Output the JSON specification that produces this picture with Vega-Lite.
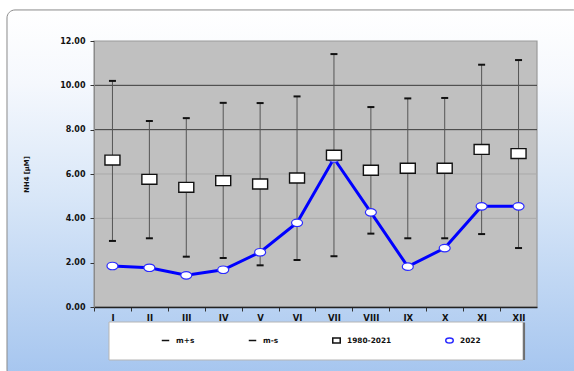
{
  "$schema": "https://vega.github.io/schema/vega-lite/v6.json",
  "width": 443,
  "height": 266,
  "autosize": {"type": "none"},
  "padding": {"left": 94, "top": 41, "right": 37, "bottom": 64},
  "background": "white",
  "config": {
    "view": {"stroke": null},
    "font": "DejaVu Sans"
  },
  "data": {
    "values": [
      {"month": 1, "mps": 10.2, "mms": 2.98, "mean": 6.63, "y2022": 1.85},
      {"month": 2, "mps": 8.39, "mms": 3.1, "mean": 5.76, "y2022": 1.77},
      {"month": 3, "mps": 8.52, "mms": 2.27, "mean": 5.4, "y2022": 1.43},
      {"month": 4, "mps": 9.21, "mms": 2.21, "mean": 5.7, "y2022": 1.68},
      {"month": 5, "mps": 9.2, "mms": 1.88, "mean": 5.55, "y2022": 2.47},
      {"month": 6, "mps": 9.5, "mms": 2.12, "mean": 5.82, "y2022": 3.8},
      {"month": 7, "mps": 11.41, "mms": 2.29, "mean": 6.85, "y2022": 6.7},
      {"month": 8, "mps": 9.02, "mms": 3.31, "mean": 6.17, "y2022": 4.27},
      {"month": 9, "mps": 9.41, "mms": 3.1, "mean": 6.26, "y2022": 1.82},
      {"month": 10, "mps": 9.43, "mms": 3.1, "mean": 6.26, "y2022": 2.66},
      {"month": 11, "mps": 10.93, "mms": 3.29, "mean": 7.11, "y2022": 4.54},
      {"month": 12, "mps": 11.14, "mms": 2.66, "mean": 6.92, "y2022": 4.54}
    ]
  },
  "layer": [
    {
      "description": "framed panel behind the chart, white fading to light blue",
      "data": {"values": [{}]},
      "mark": {
        "type": "rect",
        "cornerRadius": 8,
        "stroke": "#8a8a8a",
        "strokeWidth": 1,
        "fill": {
          "gradient": "linear",
          "x1": 0, "y1": 0, "x2": 0, "y2": 1,
          "stops": [
            {"offset": 0, "color": "#ffffff"},
            {"offset": 0.2, "color": "#f5f8fd"},
            {"offset": 0.5, "color": "#d9e7f8"},
            {"offset": 0.75, "color": "#bfd6f3"},
            {"offset": 1, "color": "#a5c5ef"}
          ]
        }
      },
      "encoding": {
        "x": {"datum": -1.857, "type": "quantitative", "scale": {"domain": [0.5, 12.5], "nice": false, "zero": false}},
        "x2": {"datum": 13.7},
        "y": {"datum": 13.4, "type": "quantitative", "scale": {"domain": [0, 12], "nice": false, "zero": false}},
        "y2": {"datum": -3.2}
      }
    },
    {
      "description": "white box holding the legend",
      "data": {"values": [{}]},
      "mark": {"type": "rect", "fill": "white", "stroke": "#b5b5b5", "strokeWidth": 1},
      "encoding": {
        "x": {"datum": 0.906, "type": "quantitative"},
        "x2": {"datum": 12.121},
        "y": {"datum": -0.677, "type": "quantitative"},
        "y2": {"datum": -2.391}
      }
    },
    {
      "description": "shadow edge on the right of the legend box",
      "data": {"values": [{}]},
      "mark": {"type": "rule", "stroke": "#6f6f6f", "strokeWidth": 2},
      "encoding": {
        "x": {"datum": 12.15, "type": "quantitative"},
        "y": {"datum": -0.7, "type": "quantitative"},
        "y2": {"datum": -2.39}
      }
    },
    {
      "description": "grey plot area",
      "data": {"values": [{}]},
      "mark": {"type": "rect", "fill": "#c0c0c0", "stroke": "#9a9a9a", "strokeWidth": 1.2},
      "encoding": {
        "x": {"datum": 0.5, "type": "quantitative"},
        "x2": {"datum": 12.5},
        "y": {"datum": 0, "type": "quantitative"},
        "y2": {"datum": 12}
      }
    },
    {
      "description": "horizontal grid lines",
      "data": {"values": [{"g": 4}, {"g": 6}, {"g": 8}, {"g": 10}]},
      "mark": {"type": "rule", "strokeWidth": 1},
      "encoding": {
        "y": {"field": "g", "type": "quantitative"},
        "x": {"datum": 0.5, "type": "quantitative"},
        "x2": {"datum": 12.5},
        "stroke": {"condition": {"test": "datum.g >= 8", "value": "#3a3a3a"}, "value": "#a9a9a9"}
      }
    },
    {
      "description": "m-s to m+s whiskers",
      "mark": {"type": "rule", "stroke": "#555555", "strokeWidth": 1},
      "encoding": {
        "x": {
          "field": "month",
          "type": "quantitative",
          "title": null,
          "axis": {
            "zindex": 1,
            "values": [1, 2, 3, 4, 5, 6, 7, 8, 9, 10, 11, 12],
            "labelExpr": "['I','II','III','IV','V','VI','VII','VIII','IX','X','XI','XII'][datum.value - 1]",
            "grid": false,
            "domainColor": "#222222",
            "domainWidth": 1.5,
            "tickColor": "#333333",
            "tickSize": 4,
            "tickOffset": -18.46,
            "labelOffset": 18.46,
            "labelPadding": 2,
            "labelFont": "DejaVu Sans",
            "labelFontSize": 8.5,
            "labelFontWeight": "bold",
            "labelColor": "#111111"
          }
        },
        "y": {
          "field": "mms",
          "type": "quantitative",
          "title": "NH4 [µM]",
          "axis": {
            "zindex": 1,
            "values": [0, 2, 4, 6, 8, 10, 12],
            "format": ".2f",
            "grid": false,
            "domainColor": "#8a8a8a",
            "domainWidth": 1,
            "tickColor": "#333333",
            "tickSize": 4,
            "labelPadding": 5,
            "labelFont": "DejaVu Sans",
            "labelFontSize": 8,
            "labelFontWeight": "bold",
            "labelColor": "#111111",
            "titleFont": "DejaVu Sans",
            "titleFontSize": 6.8,
            "titleFontWeight": "bold",
            "titleColor": "#111111",
            "titlePadding": 30
          }
        },
        "y2": {"field": "mps"}
      }
    },
    {
      "description": "2022 monthly values",
      "mark": {"type": "line", "stroke": "#0000ff", "strokeWidth": 3},
      "encoding": {
        "x": {"field": "month", "type": "quantitative"},
        "y": {"field": "y2022", "type": "quantitative"}
      }
    },
    {
      "description": "caps at m+s and m-s",
      "transform": [{"fold": ["mps", "mms"], "as": ["series", "value"]}],
      "mark": {"type": "point", "filled": true, "fill": "white", "size": 49, "strokeWidth": 2, "opacity": 1},
      "encoding": {
        "x": {"field": "month", "type": "quantitative"},
        "y": {"field": "value", "type": "quantitative"},
        "shape": {
          "field": "series",
          "type": "nominal",
          "scale": {
            "domain": ["mps", "mms", "mean", "y2022"],
            "range": [
              "M-1,0H1",
              "M-1,0H1",
              "M-1,-0.66H1V0.66H-1Z",
              "M-1,0A1,0.68,0,1,0,1,0A1,0.68,0,1,0,-1,0Z"
            ]
          },
          "legend": {
            "orient": "none",
            "legendX": 67,
            "legendY": 295,
            "direction": "horizontal",
            "columns": 4,
            "title": null,
            "labelExpr": "{'mps': 'm+s', 'mms': 'm-s', 'mean': '1980-2021', 'y2022': '2022'}[datum.label]",
            "labelFont": "DejaVu Sans",
            "labelFontSize": 7.4,
            "labelFontWeight": "bold",
            "labelColor": "#111111",
            "labelOffset": 6,
            "symbolSize": 56,
            "symbolStrokeWidth": 1.5,
            "symbolFillColor": "white",
            "gridAlign": "none",
            "columnPadding": 50,
            "padding": 0,
            "zindex": 1
          }
        },
        "stroke": {
          "field": "series",
          "type": "nominal",
          "scale": {
            "domain": ["mps", "mms", "mean", "y2022"],
            "range": ["#111111", "#111111", "#111111", "#2a2aff"]
          },
          "legend": {
            "orient": "none",
            "legendX": 67,
            "legendY": 295,
            "direction": "horizontal",
            "columns": 4,
            "title": null,
            "labelExpr": "{'mps': 'm+s', 'mms': 'm-s', 'mean': '1980-2021', 'y2022': '2022'}[datum.label]"
          }
        }
      }
    },
    {
      "description": "2022 markers",
      "transform": [{"fold": ["y2022"], "as": ["series", "value"]}],
      "mark": {"type": "point", "filled": true, "fill": "white", "size": 121, "strokeWidth": 1.2, "opacity": 1},
      "encoding": {
        "x": {"field": "month", "type": "quantitative"},
        "y": {"field": "value", "type": "quantitative"},
        "shape": {"field": "series", "type": "nominal"},
        "stroke": {"field": "series", "type": "nominal"}
      }
    },
    {
      "description": "1980-2021 means",
      "transform": [{"fold": ["mean"], "as": ["series", "value"]}],
      "mark": {"type": "point", "filled": true, "fill": "white", "size": 225, "strokeWidth": 1.4, "opacity": 1},
      "encoding": {
        "x": {"field": "month", "type": "quantitative"},
        "y": {"field": "value", "type": "quantitative"},
        "shape": {"field": "series", "type": "nominal"},
        "stroke": {"field": "series", "type": "nominal"}
      }
    }
  ]
}
